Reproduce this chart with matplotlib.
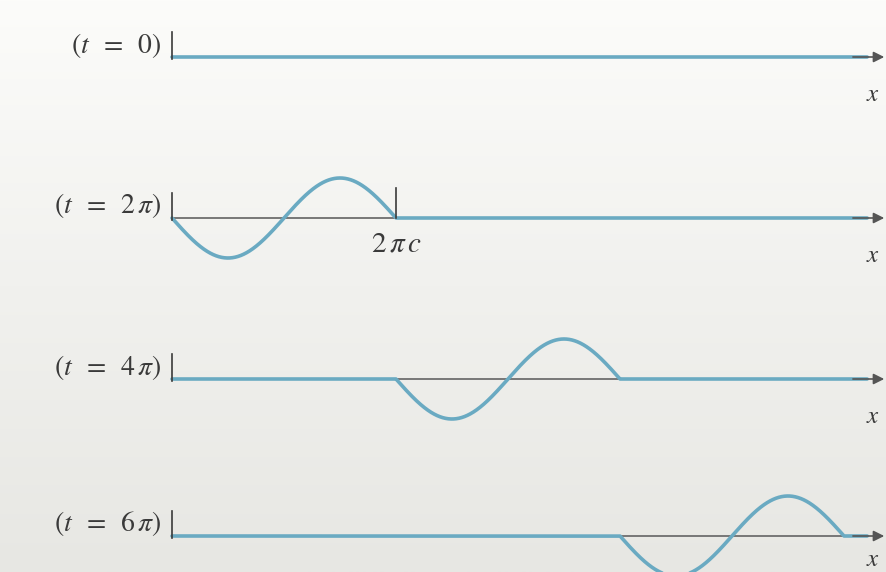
import numpy as np
import matplotlib.pyplot as plt

plt.rcParams['mathtext.fontset'] = 'stix'
plt.rcParams['font.family'] = 'STIXGeneral'

# snapshots of a one-wavelength pulse leaving the origin (c = 1)
times = [0, 2 * np.pi, 4 * np.pi, 6 * np.pi]
time_labels = ['0', r'2\,\pi', r'4\,\pi', r'6\,\pi']
pulse_length = 2 * np.pi
x_end = 19.5

W, H = 886, 572
px_per_unit = 224 / (2 * np.pi)   # one wavelength = 224 px
origin_px = 172
row_px = [57, 218, 379, 536]
amp_px = 40

blue = '#6aaac2'
ink = '#3a3a3a'

fig = plt.figure(figsize=(W / 100, H / 100), dpi=100)
fig.patch.set_facecolor('#eeeeea')

# paper-ish background: lighter at the top
bg = fig.add_axes([0, 0, 1, 1])
grad = np.linspace(0, 1, 256).reshape(-1, 1)
bg.imshow(grad, aspect='auto', cmap=plt.matplotlib.colors.LinearSegmentedColormap.from_list(
    'paper', ['#fcfcfa', '#f1f1ee', '#e7e7e3']), extent=[0, 1, 0, 1])
bg.axis('off')

x = np.linspace(0, x_end, 3000)
xlim = (-origin_px / px_per_unit, (W - origin_px) / px_per_unit)

for i, (t, lab) in enumerate(zip(times, time_labels)):
    h = 4 * amp_px
    bottom = (H - (row_px[i] + h / 2)) / H
    ax = fig.add_axes([0, bottom, 1, h / H])
    ax.set_xlim(xlim)
    ax.set_ylim(-2, 2)
    ax.axis('off')
    ax.patch.set_alpha(0)

    inside = (x >= t - pulse_length) & (x <= t)
    y = np.where(inside, -np.sin(x), 0.0)

    # thin axis line under the pulse
    if t > 0:
        ax.plot([t - pulse_length, t], [0, 0], color='#6e6e6e', lw=1.3, zorder=1)
    ax.plot(x, y, color=blue, lw=2.6, solid_capstyle='round', zorder=2)

    # arrow head on the x axis
    ax.annotate('', xy=(xlim[1] - 0.05, 0), xytext=(x_end - 0.4, 0),
                arrowprops=dict(arrowstyle='-|>', color='#555555', lw=1.2,
                                mutation_scale=16, shrinkA=0, shrinkB=0),
                zorder=3)
    xl_y = -0.95 if i < 3 else -0.6
    ax.text(x_end + 0.15, xl_y, r'$x$', fontsize=18, color=ink,
            ha='center', va='center')

    # tick at the origin
    ax.plot([0, 0], [-0.05, 0.62], color=ink, lw=1.2, zorder=3)
    ax.text(-0.3, 0.3, r'$(t\;\;=\;\;%s)$' % lab, fontsize=20, color=ink,
            ha='right', va='center')

    if i == 1:
        ax.plot([pulse_length, pulse_length], [0, 0.75], color=ink, lw=1.2, zorder=3)
        ax.text(pulse_length, -0.68, r'$2\,\pi\, c$', fontsize=21, color=ink,
                ha='center', va='center')

fig.savefig('out.png', dpi=100, facecolor=fig.get_facecolor())
